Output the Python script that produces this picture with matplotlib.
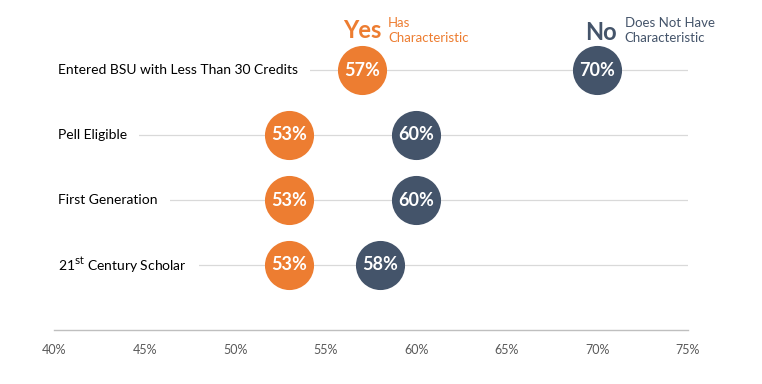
import matplotlib
matplotlib.use('Agg')
import matplotlib.pyplot as plt

plt.rcParams['font.family'] = ['Lato', 'DejaVu Sans']

# data
categories = ['Entered BSU with Less Than 30 Credits', 'Pell Eligible',
              'First Generation', r'21$^{\mathrm{st}}$ Century Scholar']
yes_values = [57, 53, 53, 53]
no_values = [70, 60, 60, 58]
tick_values = [40, 45, 50, 55, 60, 65, 70, 75]

orange = '#ED7D31'
navy = '#44546A'

fig = plt.figure(figsize=(7.62, 3.84), dpi=100)
ax = fig.add_axes([54 / 762, 54 / 384, 634 / 762, 325 / 384])

rows = list(range(len(categories), 0, -1))

# gridlines behind everything
for r in rows:
    ax.axhline(r, color='#D9D9D9', lw=0.9, zorder=1)

ax.scatter(yes_values, rows, s=1250, color=orange, zorder=3, linewidths=0)
ax.scatter(no_values, rows, s=1250, color=navy, zorder=3, linewidths=0)

for x, r in zip(yes_values, rows):
    ax.text(x, r, '{}%'.format(x), color='white', fontsize=13, fontweight='bold',
            ha='center', va='center', zorder=4)
for x, r in zip(no_values, rows):
    ax.text(x, r, '{}%'.format(x), color='white', fontsize=13, fontweight='bold',
            ha='center', va='center', zorder=4)

# category labels, white box hides the gridline behind
for cat, r in zip(categories, rows):
    ax.text(40.2, r, cat, fontsize=10, color='black', ha='left', va='center', zorder=2,
            bbox=dict(facecolor='white', edgecolor='none', pad=9))

# legend-like headers
ax.text(57.0, 4.6, 'Yes', color=orange, fontsize=17, fontweight='bold',
        ha='center', va='center')
ax.text(58.45, 4.61, 'Has\nCharacteristic', color=orange, fontsize=9.5,
        ha='left', va='center', linespacing=1.25)
ax.text(70.2, 4.57, 'No', color=navy, fontsize=17, fontweight='bold',
        ha='center', va='center')
ax.text(71.5, 4.61, 'Does Not Have\nCharacteristic', color=navy, fontsize=9.5,
        ha='left', va='center', linespacing=1.25)

ax.set_xlim(40, 75)
ax.set_ylim(0, 5)
ax.set_xticks(tick_values)
ax.set_xticklabels(['{}%'.format(t) for t in tick_values], color='#595959', fontsize=9)
ax.tick_params(axis='x', length=0, pad=10)
ax.set_yticks([])
for side in ['top', 'left', 'right']:
    ax.spines[side].set_visible(False)
ax.spines['bottom'].set_color('#BFBFBF')
ax.spines['bottom'].set_linewidth(1)

plt.savefig('out.png', dpi=100)
